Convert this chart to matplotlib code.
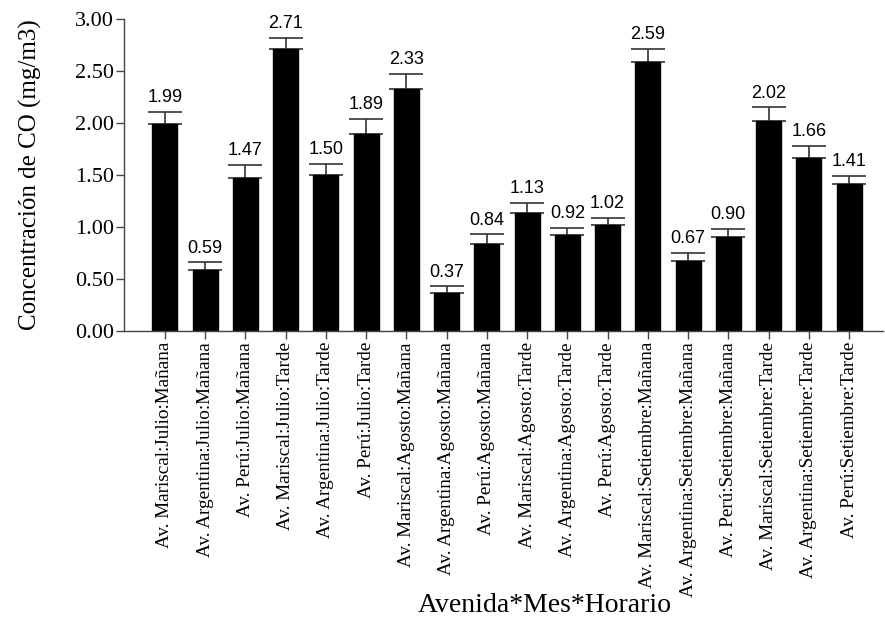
import matplotlib
matplotlib.use("Agg")
import matplotlib.pyplot as plt
import numpy as np

categories = [
    "Av. Mariscal:Julio:Mañana", "Av. Argentina:Julio:Mañana", "Av. Perú:Julio:Mañana",
    "Av. Mariscal:Julio:Tarde", "Av. Argentina:Julio:Tarde", "Av. Perú:Julio:Tarde",
    "Av. Mariscal:Agosto:Mañana", "Av. Argentina:Agosto:Mañana", "Av. Perú:Agosto:Mañana",
    "Av. Mariscal:Agosto:Tarde", "Av. Argentina:Agosto:Tarde", "Av. Perú:Agosto:Tarde",
    "Av. Mariscal:Setiembre:Mañana", "Av. Argentina:Setiembre:Mañana", "Av. Perú:Setiembre:Mañana",
    "Av. Mariscal:Setiembre:Tarde", "Av. Argentina:Setiembre:Tarde", "Av. Perú:Setiembre:Tarde",
]
means = [1.99, 0.59, 1.47, 2.71, 1.50, 1.89, 2.33, 0.37, 0.84,
         1.13, 0.92, 1.02, 2.59, 0.67, 0.90, 2.02, 1.66, 1.41]
errors = [0.12, 0.07, 0.13, 0.11, 0.11, 0.15, 0.14, 0.06, 0.09,
          0.10, 0.07, 0.07, 0.12, 0.08, 0.08, 0.13, 0.12, 0.08]
yticks = [0.0, 0.5, 1.0, 1.5, 2.0, 2.5, 3.0]

serif = ["Liberation Serif", "DejaVu Serif"]
sans = ["Liberation Sans", "DejaVu Sans"]

fig = plt.figure(figsize=(8.85, 6.19), dpi=100)
ax = fig.add_axes([0.140, 0.4653, 0.858, 0.504])

x = np.arange(len(categories))
ax.bar(x, means, width=0.62, color="black", edgecolor="black", zorder=2)
ax.errorbar(x, means, yerr=[np.zeros(len(errors)), errors], fmt="none",
            ecolor="#333333", elinewidth=1.2, capsize=12, capthick=1.2, zorder=1)

for xi, m, e in zip(x, means, errors):
    ax.text(xi, m + e + 0.055, f"{m:.2f}", ha="center", va="bottom",
            fontsize=13, family=sans)

ax.set_xlim(-1.02, 17.85)
ax.set_ylim(0, 3.0)
ax.set_yticks(yticks)
ax.set_yticklabels([f"{v:.2f}" for v in yticks], fontsize=16, family=serif)
ax.set_xticks(x)
ax.set_xticklabels(categories, rotation=90, fontsize=13.8, family=serif)
ax.tick_params(axis="both", direction="out", length=6, width=1, color="#444444")
ax.tick_params(axis="x", pad=2)
ax.tick_params(axis="y", pad=1)

for side in ("top", "right"):
    ax.spines[side].set_visible(False)
for side in ("left", "bottom"):
    ax.spines[side].set_color("#444444")
    ax.spines[side].set_linewidth(1)

ax.set_ylabel("Concentración de CO (mg/m3)", fontsize=18, family=serif, labelpad=24)
fig.text(0.615, 0.002, "Avenida*Mes*Horario", ha="center", va="bottom",
         fontsize=20, family=serif)

fig.savefig("out.png", dpi=100)
